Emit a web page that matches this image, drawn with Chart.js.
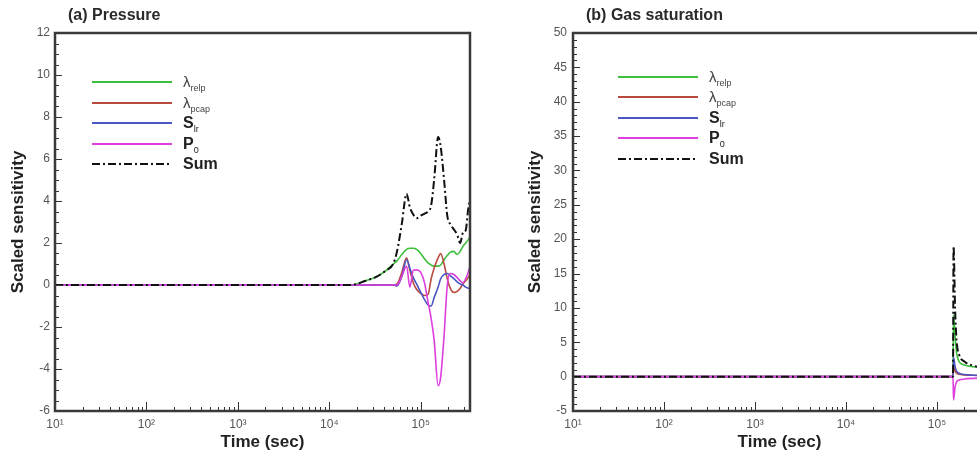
<!DOCTYPE html>
<html>
<head>
<meta charset="utf-8">
<script src="https://cdn.jsdelivr.net/npm/chart.js@4.4.1/dist/chart.umd.min.js"></script>
<style>
  html, body { margin: 0; padding: 0; background: #fff; overflow: hidden; width: 977px; height: 453px; }
  body { position: relative; font-family: "Liberation Sans", Arial, sans-serif; color: #222; }
  .panel { position: absolute; top: 0; height: 453px; }
  #panelA { left: 0; width: 490px; }
  #panelB { left: 490px; width: 510px; }
  .ptitle { position: absolute; top: 6px; font-weight: bold; font-size: 16px; color: #2a2a2a; white-space: nowrap; }
  .legend { position: absolute; }
  .lrow { position: absolute; left: 0; height: 20px; white-space: nowrap; }
  .lrow svg { position: absolute; left: 0; top: 0; }
  .lrow span { position: absolute; top: 0; line-height: 20px; font-size: 16px; color: #222; }
  .lrow sub { font-size: 9px; font-weight: normal; vertical-align: -4px; }
  .lrow .lam { font-weight: normal; font-size: 15px; color: #444; }
</style>
</head>
<body>
<div class="panel" id="panelA"><canvas id="chartA"></canvas></div>
<div class="panel" id="panelB"><canvas id="chartB"></canvas></div>
<div class="ptitle" style="left:68px">(a) Pressure</div>
<div class="ptitle" style="left:586px">(b) Gas saturation</div>
<div class="legend" id="legendA" style="left:92px; top:72px"></div>
<div class="legend" id="legendB" style="left:618px; top:67px"></div>

<script>
// ---- data ----
const seriesNames = ['λ<sub>relp</sub>', 'λ<sub>pcap</sub>', 'S<sub>lr</sub>', 'P<sub>0</sub>', 'Sum'];
const seriesColors = ['#3dbf3d', '#b84a3e', '#4b55c4', '#dd3fdd', '#111111'];

const xTicks = [10, 100, 1000, 10000, 100000];
const pressureTicks = [-6, -4, -2, 0, 2, 4, 6, 8, 10, 12];
const gasTicks = [-5, 0, 5, 10, 15, 20, 25, 30, 35, 40, 45, 50];

// (a) Pressure
const pTime = [10, 1.7e4, 2.5e4, 3.3e4, 4.2e4, 5e4, 5.5e4, 6.2e4, 7e4, 7.6e4, 8.3e4, 9e4, 1e5, 1.1e5, 1.2e5,
               1.3e5, 1.4e5, 1.55e5, 1.65e5, 1.8e5, 1.95e5, 2.1e5, 2.3e5, 2.5e5, 2.7e5, 2.9e5, 3.1e5, 3.3e5, 3.456e5];
const pRelp = [0, 0, 0.2, 0.4, 0.7, 1.0, 1.15, 1.45, 1.7, 1.75, 1.75, 1.7, 1.5, 1.25, 1.05,
               0.95, 0.9, 0.9, 0.95, 1.2, 1.4, 1.55, 1.6, 1.45, 1.6, 1.85, 2.0, 2.15, 2.3];
const pPcap = [0, 0, 0, 0, 0, 0, 0.05, 0.6, 1.3, 0.7, 0.1, -0.2, -0.4, -0.5, -0.45,
               0.3, 0.8, 1.3, 1.5, 1.0, 0.3, -0.15, -0.35, -0.3, -0.15, 0.05, 0.2, 0.35, 0.5];
const pSlr  = [0, 0, 0, 0, 0, 0, -0.05, 0.4, 1.2, 0.8, 0.35, 0.05, -0.35, -0.7, -0.95,
               -1.0, -0.6, -0.1, 0.3, 0.5, 0.55, 0.45, 0.3, 0.15, 0.05, 0, -0.1, -0.15, -0.2];
const pP0   = [0, 0, 0, 0, 0, 0, 0, 0.4, 0.9, -0.1, 0.7, 0.72, 0.6, 0.1, -0.8,
               -1.6, -2.6, -4.8, -4.4, -2.4, 0.0, 0.55, 0.5, 0.35, 0.2, 0.1, 0.3, 0.6, 0.9];
const pSum  = [0, 0, 0.2, 0.4, 0.7, 1.0, 1.6, 2.9, 4.35, 3.7, 3.35, 3.18, 3.3, 3.4, 3.5,
               3.8, 5.0, 7.05, 6.6, 5.0, 3.3, 2.9, 2.65, 2.4, 2.0, 2.5, 2.6, 3.6, 4.1];

// (b) Gas saturation
const gTime = [10, 1.5e5, 1.52e5, 1.58e5, 1.64e5, 1.75e5, 2e5, 2.5e5, 3.456e5];
const gRelp = [0, 0, 9, 6, 3.5, 2.2, 1.7, 1.45, 1.2];
const gPcap = [0, 0, 1.5, 0.8, 0.5, 0.35, 0.25, 0.2, 0.15];
const gSlr  = [0, 0, 2.8, 1.5, 0.8, 0.5, 0.3, 0.2, 0.1];
const gP0   = [0, 0, -3.4, -1.5, -0.8, -0.5, -0.35, -0.25, -0.2];
const gSum  = [0, 0, 19, 10, 5.3, 3.2, 2.2, 1.6, 1.2];

const X_MIN = 10, X_MAX = 3.456e5;
const SUP = { 1: '¹', 2: '²', 3: '³', 4: '⁴', 5: '⁵' };
const FONT = '"Liberation Sans", Arial, sans-serif';

// frame + inward ticks like the original plotting tool
const frameTicks = {
  id: 'frameTicks',
  afterDatasetsDraw(chart, args, o) {
    const { ctx, chartArea: a, scales: { x, y } } = chart;
    ctx.save();
    ctx.strokeStyle = '#333';
    ctx.lineWidth = 1;
    ctx.beginPath();
    for (let d = 10; d <= X_MAX; d *= 10) {
      for (let k = 1; k <= 9; k++) {
        const v = k * d;
        if (v > X_MAX) break;
        const px = Math.round(x.getPixelForValue(v)) + 0.5;
        ctx.moveTo(px, a.bottom);
        ctx.lineTo(px, a.bottom - (k === 1 ? 9 : 4));
      }
    }
    for (let v = y.min; v <= y.max + 1e-9; v += o.yMinor) {
      const py = Math.round(y.getPixelForValue(v)) + 0.5;
      const major = Math.abs(v / o.yMajor - Math.round(v / o.yMajor)) < 1e-6;
      ctx.moveTo(a.left, py);
      ctx.lineTo(a.left + (major ? 7 : 4), py);
    }
    ctx.stroke();
    ctx.lineWidth = 2.5;
    ctx.strokeStyle = '#3a3a3a';
    ctx.strokeRect(a.left, a.top, a.right - a.left, a.bottom - a.top);
    ctx.restore();
  }
};

function makeDatasets(time, lists) {
  return lists.map((vals, i) => ({
    label: seriesNames[i],
    data: vals.map((v, j) => ({ x: time[j], y: v })),
    borderColor: seriesColors[i],
    borderWidth: i === 4 ? 2 : 1.6,
    borderDash: i === 4 ? [8, 3, 2, 3] : [],
    pointRadius: 0,
    fill: false,
    cubicInterpolationMode: 'monotone',
    order: i === 4 ? 0 : 5 - i
  }));
}

function makeChart(id, time, lists, yTicks, yMinor, geo) {
  return new Chart(document.getElementById(id), {
    type: 'line',
    data: { datasets: makeDatasets(time, lists) },
    options: {
      responsive: true,
      maintainAspectRatio: false,
      animation: false,
      layout: { padding: { left: 0, top: 33, right: geo.right, bottom: 0 } },
      plugins: { legend: { display: false }, tooltip: { enabled: false }, frameTicks: { yMinor: yMinor, yMajor: yTicks[1] - yTicks[0] } },
      scales: {
        x: {
          type: 'logarithmic',
          min: X_MIN, max: X_MAX,
          grid: { display: false, drawTicks: false },
          border: { display: false },
          afterBuildTicks: s => { s.ticks = xTicks.map(v => ({ value: v })); },
          afterFit: s => { s.height = 42; },
          ticks: {
            autoSkip: false, maxRotation: 0, padding: 6,
            color: '#555', font: { family: FONT, size: 12 },
            callback: v => '10' + SUP[Math.round(Math.log10(v))]
          },
          title: { display: true, text: 'Time (sec)', color: '#222', padding: { top: 0, bottom: 0 },
                   font: { family: FONT, size: 17, weight: 'bold' } }
        },
        y: {
          min: yTicks[0], max: yTicks[yTicks.length - 1],
          grid: { display: false, drawTicks: false },
          border: { display: false },
          afterBuildTicks: s => { s.ticks = yTicks.map(v => ({ value: v })); },
          afterFit: s => { s.width = geo.yw; },
          ticks: { padding: geo.tp, color: '#555', font: { family: FONT, size: 12 } },
          title: { display: true, text: 'Scaled sensitivity', color: '#222', padding: { top: geo.tt, bottom: 0 },
                   font: { family: FONT, size: 17, weight: 'bold' } }
        }
      }
    },
    plugins: [frameTicks]
  });
}

makeChart('chartA', pTime, [pRelp, pPcap, pSlr, pP0, pSum], pressureTicks, 0.5, { right: 20, yw: 55, tp: 5, tt: 8 });
makeChart('chartB', gTime, [gRelp, gPcap, gSlr, gP0, gSum], gasTicks, 1, { right: 14, yw: 83, tp: 6, tt: 35 });

// legends (html so the subscripts stay real text)
function buildLegend(id, rowGap) {
  const box = document.getElementById(id);
  seriesNames.forEach((name, i) => {
    const row = document.createElement('div');
    row.className = 'lrow';
    row.style.top = (i * rowGap) + 'px';
    const dash = i === 4 ? 'stroke-dasharray="8 3 2 3"' : '';
    row.innerHTML =
      '<svg width="82" height="20"><line x1="0" y1="10" x2="80" y2="10" stroke="' + seriesColors[i] +
      '" stroke-width="' + (i === 4 ? 2 : 2.2) + '" ' + dash + '/></svg>' +
      '<span style="left:91px">' + (i < 2 ? '<span class="lam" style="position:static">' + name + '</span>'
        : '<b>' + name.replace('<sub>', '</b><sub>') + (i === 4 ? '</b>' : '')) + '</span>';
    box.appendChild(row);
  });
}
buildLegend('legendA', 20.6);
buildLegend('legendB', 20.4);
</script>
</body>
</html>
